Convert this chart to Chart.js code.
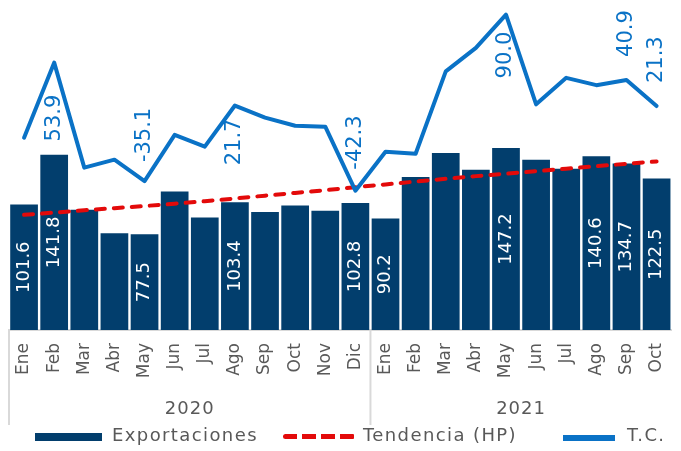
<!DOCTYPE html>
<html>
<head>
<meta charset="utf-8">
<script src="https://cdn.jsdelivr.net/npm/chart.js@4.4.0/dist/chart.umd.min.js"></script>
<style>
  html, body { margin: 0; padding: 0; background: #fff; overflow: hidden; }
  #wrap { position: relative; width: 681px; height: 451px; overflow: hidden; }
  #chart { position: absolute; left: 0; top: 0; }
  .lg-text { position: absolute; top: 425px; font-family: 'DejaVu Sans'; font-size: 18px; line-height: 20px;
             color: #595959; letter-spacing: 1.4px; white-space: nowrap; }
  .lg-box { position: absolute; }
</style>
</head>
<body>
<div id="wrap">
  <canvas id="chart" width="690" height="451"></canvas>
  <div id="legend"></div>
</div>
<script>
  // data
  const months = ['Ene', 'Feb', 'Mar', 'Abr', 'May', 'Jun', 'Jul', 'Ago', 'Sep', 'Oct', 'Nov', 'Dic',
                  'Ene', 'Feb', 'Mar', 'Abr', 'May', 'Jun', 'Jul', 'Ago', 'Sep', 'Oct'];
  const years = ['2020', '2021'];
  const yearSpans = [12, 10];

  const exportaciones = [101.6, 141.8, 97.2, 78.3, 77.5, 112.1, 91.0, 103.4, 95.4, 100.7, 96.4, 102.8,
                         90.2, 123.7, 143.2, 129.7, 147.2, 137.8, 130.5, 140.6, 134.7, 122.5];
  const tendencia = [93.2, 95.0, 96.9, 98.6, 100.3, 102.2, 104.2, 106.4, 108.7, 110.9, 113.1, 115.5,
                     117.8, 120.1, 122.3, 124.5, 126.5, 128.5, 130.5, 132.5, 134.5, 136.4];
  const tc = [-2.5, 53.9, -25.0, -19.0, -35.1, -0.3, -9.2, 21.7, 12.6, 6.5, 5.8, -42.3,
              -13.0, -14.5, 47.4, 65.0, 90.0, 22.6, 42.5, 37.0, 40.9, 21.3];

  // which points carry a value label
  const barLabelIdx = [0, 1, 4, 7, 11, 12, 16, 19, 20, 21];
  const tcLabelIdx = [1, 4, 7, 11, 16, 20, 21];

  // label placement for the T.C. line (px from the point, + = below, - = above)
  const tcLabelGap = { 1: 32, 4: -19, 7: 13, 11: -21, 16: 17, 20: -23, 21: -23 };

  const navy = '#023e6d';
  const red = '#e30a0a';
  const blue = '#0a72c6';
  const grey = '#595959';
  const lineGrey = '#d9d9d9';
  const font = 'DejaVu Sans';

  const extras = {
    id: 'extras',
    afterDraw(chart) {
      const ctx = chart.ctx;
      const area = chart.chartArea;
      const xs = chart.scales.x;

      // white values inside the bars
      const bars = chart.getDatasetMeta(0).data;
      ctx.save();
      ctx.font = '18px "' + font + '"';
      ctx.fillStyle = '#ffffff';
      ctx.textAlign = 'center';
      ctx.textBaseline = 'middle';
      barLabelIdx.forEach(i => {
        const b = bars[i];
        ctx.save();
        ctx.translate(b.x, (b.y + b.base) / 2);
        ctx.rotate(-Math.PI / 2);
        ctx.fillText(exportaciones[i].toFixed(1), 0, 0);
        ctx.restore();
      });

      // blue values on the T.C. line
      const pts = chart.getDatasetMeta(2).data;
      ctx.font = '21px "' + font + '"';
      ctx.fillStyle = blue;
      tcLabelIdx.forEach(i => {
        const p = pts[i];
        const gap = tcLabelGap[i];
        ctx.save();
        ctx.translate(p.x, p.y + gap);
        ctx.rotate(-Math.PI / 2);
        ctx.textAlign = gap > 0 ? 'right' : 'left';
        ctx.fillText(tc[i].toFixed(1), 0, 0);
        ctx.restore();
      });

      // year groups under the month ticks
      const pitch = xs.getPixelForValue(1) - xs.getPixelForValue(0);
      let start = xs.getPixelForValue(0) - pitch / 2;
      ctx.strokeStyle = lineGrey;
      ctx.lineWidth = 2;
      ctx.font = '18px "' + font + '"';
      ctx.letterSpacing = '1px';
      ctx.fillStyle = grey;
      ctx.textAlign = 'center';
      ctx.textBaseline = 'middle';
      years.forEach((yr, k) => {
        const end = start + yearSpans[k] * pitch;
        ctx.beginPath();
        ctx.moveTo(start, area.bottom);
        ctx.lineTo(start, 425);
        ctx.stroke();
        ctx.fillText(yr, (start + end) / 2, 409);
        start = end;
      });
      ctx.restore();
    }
  };

  const chart = new Chart(document.getElementById('chart'), {
    type: 'bar',
    data: {
      labels: months,
      datasets: [
        {
          type: 'bar', label: 'Exportaciones', data: exportaciones,
          backgroundColor: navy, yAxisID: 'y', order: 3,
          categoryPercentage: 1, barPercentage: 0.92
        },
        {
          type: 'line', label: 'Tendencia (HP)', data: tendencia,
          borderColor: red, borderWidth: 4, borderDash: [9, 9], borderCapStyle: 'round',
          pointRadius: 0, fill: false, yAxisID: 'y', order: 2
        },
        {
          type: 'line', label: 'T.C.', data: tc,
          borderColor: blue, borderWidth: 4, borderJoinStyle: 'round', borderCapStyle: 'round',
          pointRadius: 0, fill: false, yAxisID: 'y2', order: 1
        }
      ]
    },
    options: {
      responsive: false,
      animation: false,
      layout: { padding: { left: 9, right: 0, top: 0, bottom: 0 } },
      plugins: {
        legend: { display: false },
        tooltip: { enabled: false }
      },
      scales: {
        x: {
          offset: true,
          grid: { display: false, drawTicks: false },
          border: { display: true, color: lineGrey, width: 2 },
          ticks: {
            autoSkip: false, minRotation: 90, maxRotation: 90, padding: 13,
            color: grey, font: { family: font, size: 17 }
          },
          afterFit: (s) => { s.height = 121; }
        },
        y: { display: false, min: 0, max: 267 },
        y2: { display: false, min: -147, max: 101 }
      }
    },
    plugins: [extras]
  });

  // legend built as html under the axis
  const legendSlots = [
    { box: 35, w: 67, top: 433, h: 8, text: 112 },
    { box: 283, w: 72, top: 434, h: 5, text: 363 },
    { box: 563, w: 52, top: 435, h: 6, text: 627 }
  ];
  const legend = document.getElementById('legend');
  chart.data.datasets.forEach((ds, i) => {
    const slot = legendSlots[i];
    const box = document.createElement('div');
    box.className = 'lg-box';
    box.style.left = slot.box + 'px';
    box.style.top = slot.top + 'px';
    box.style.width = slot.w + 'px';
    box.style.height = slot.h + 'px';
    if (ds.borderDash) {
      box.style.background = 'repeating-linear-gradient(90deg, ' + ds.borderColor + ' 0 14px, transparent 14px 19px)';
      box.style.borderRadius = '3px';
    } else {
      box.style.background = ds.type === 'bar' ? ds.backgroundColor : ds.borderColor;
    }
    legend.appendChild(box);

    const txt = document.createElement('div');
    txt.className = 'lg-text';
    txt.style.left = slot.text + 'px';
    txt.textContent = ds.label;
    legend.appendChild(txt);
  });
</script>
</body>
</html>
